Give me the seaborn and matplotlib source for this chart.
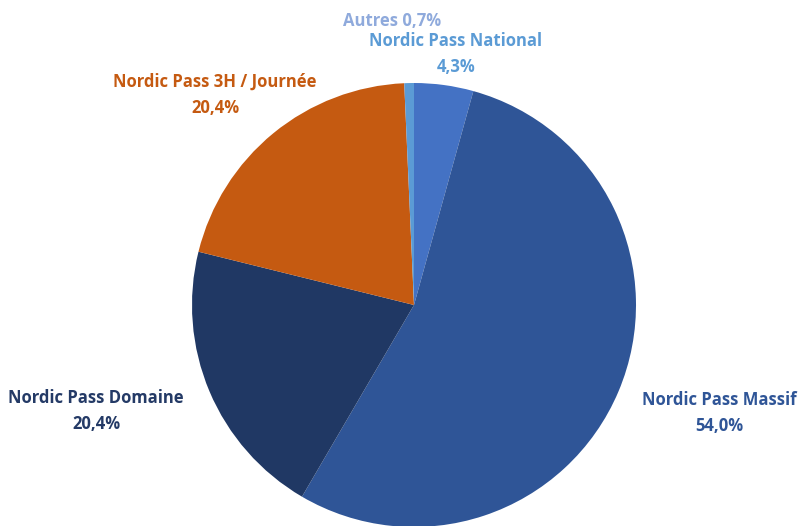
import matplotlib.pyplot as plt
import seaborn as sns

# Répartition des ventes par type de Nordic Pass
labels = ["Nordic Pass National", "Nordic Pass Massif", "Nordic Pass Domaine",
          "Nordic Pass 3H / Journée", "Autres"]
shares = [4.3, 54.0, 20.4, 20.4, 0.7]
pct_text = ["4,3%", "54,0%", "20,4%", "20,4%", "0,7%"]

slice_colors = ["#4472C4", "#2F5597", "#203864", "#C55A11", "#5B9BD5"]
label_colors = ["#5B9BD5", "#2F5597", "#243A66", "#C55A11", "#8FAADC"]

sns.set_theme(style="white")
plt.rcParams['font.family'] = ['Open Sans', 'DejaVu Sans']

W, H = 801, 526
cx, cy, r = 414, 305, 222  # pixel centre / radius of the pie

fig = plt.figure(figsize=(W / 100, H / 100), dpi=100)
ax = fig.add_axes([0, 0, 1, 1])
ax.pie(shares, colors=slice_colors, startangle=90, counterclock=False,
       radius=1, wedgeprops=dict(linewidth=0))
ax.set_aspect('auto')
ax.set_xlim(-cx / r, (W - cx) / r)
ax.set_ylim(-(H - cy) / r, cy / r)
ax.axis('off')


def px(x, y):
    # pixel position (from top-left) -> data coords
    return (x - cx) / r, (cy - y) / r


# label anchor points (pixels)
label_pos = [(456, 54), (719, 413), (96, 411), (215, 95), (392, 21)]

for i, (lab, pct) in enumerate(zip(labels, pct_text)):
    x, y = px(*label_pos[i])
    if lab == "Autres":
        txt = f"{lab} {pct}"
    else:
        txt = f"{lab}\n{pct}"
    ax.text(x, y, txt, ha='center', va='center', color=label_colors[i],
            fontsize=12, fontweight='bold', linespacing=1.6)

fig.savefig("out.png", dpi=100)
